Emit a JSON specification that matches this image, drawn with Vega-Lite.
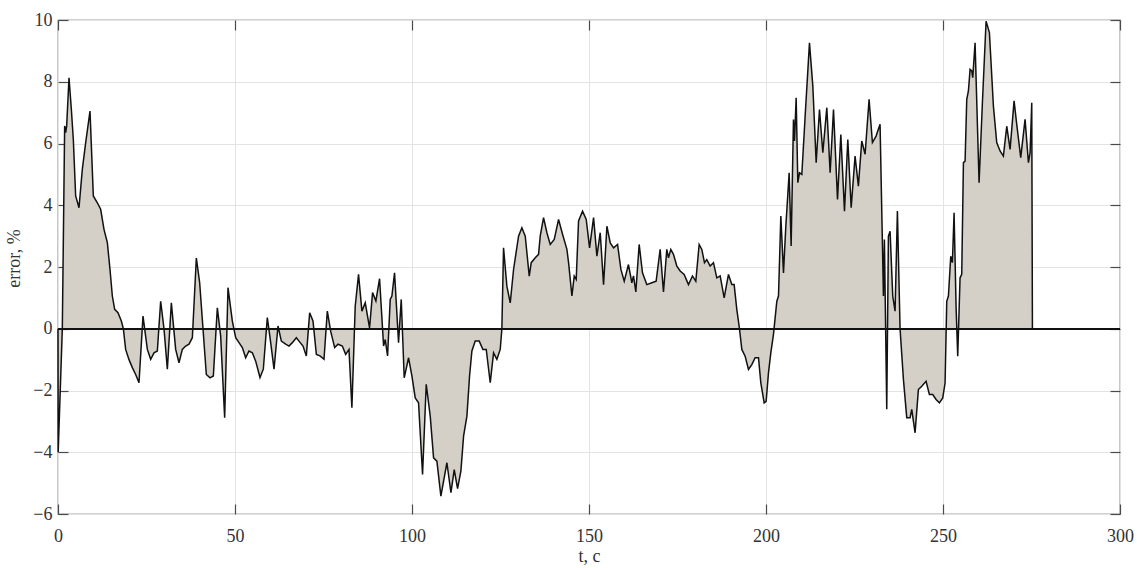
{
  "$schema": "https://vega.github.io/schema/vega-lite/v6.json",
  "width": 1062,
  "height": 494,
  "autosize": {"type": "none"},
  "padding": {"left": 58, "top": 20, "right": 17, "bottom": 54},
  "background": "white",
  "config": {
    "view": {"stroke": "#4a4a4a", "strokeWidth": 1.2},
    "axis": {
      "labelFont": "Liberation Serif",
      "titleFont": "Liberation Serif",
      "labelFontSize": 18,
      "titleFontSize": 18,
      "titleFontWeight": "normal",
      "labelColor": "#333333",
      "titleColor": "#333333",
      "gridColor": "#e3e3e3",
      "gridWidth": 1,
      "domain": false,
      "tickColor": "#4a4a4a",
      "tickWidth": 1.2
    }
  },
  "data": {"values": [
    {"t": 0, "v": 0}, {"t": 0.05, "v": -4.0}, {"t": 1.22, "v": 0.0}, {"t": 1.88, "v": 6.57}, {"t": 2.17, "v": 6.35}, {"t": 2.45, "v": 6.57},
    {"t": 3.11, "v": 8.13}, {"t": 3.77, "v": 7.11}, {"t": 4.33, "v": 6.13}, {"t": 4.99, "v": 4.3}, {"t": 5.93, "v": 3.92},
    {"t": 6.87, "v": 5.16}, {"t": 7.82, "v": 6.03}, {"t": 9.04, "v": 7.05}, {"t": 9.98, "v": 4.3}, {"t": 11.11, "v": 4.08},
    {"t": 12.05, "v": 3.87}, {"t": 12.99, "v": 3.22}, {"t": 13.94, "v": 2.79}, {"t": 14.69, "v": 1.92}, {"t": 15.35, "v": 1.06},
    {"t": 16.01, "v": 0.63}, {"t": 16.95, "v": 0.52}, {"t": 17.89, "v": 0.25}, {"t": 18.46, "v": 0.0}, {"t": 19.11, "v": -0.67},
    {"t": 20.06, "v": -1.0}, {"t": 21.0, "v": -1.26}, {"t": 21.94, "v": -1.48}, {"t": 22.88, "v": -1.75}, {"t": 24.01, "v": 0.41},
    {"t": 25.24, "v": -0.67}, {"t": 26.18, "v": -0.99}, {"t": 27.12, "v": -0.78}, {"t": 28.06, "v": -0.72}, {"t": 29.0, "v": 0.89},
    {"t": 29.94, "v": 0.0}, {"t": 30.89, "v": -1.31}, {"t": 32.02, "v": 0.84}, {"t": 33.24, "v": -0.67}, {"t": 34.18, "v": -1.1},
    {"t": 35.12, "v": -0.67}, {"t": 36.06, "v": -0.56}, {"t": 37.01, "v": -0.5}, {"t": 37.95, "v": -0.29}, {"t": 39.08, "v": 2.29},
    {"t": 40.02, "v": 1.49}, {"t": 40.96, "v": 0.0}, {"t": 41.9, "v": -1.48}, {"t": 42.94, "v": -1.59}, {"t": 43.88, "v": -1.53},
    {"t": 45.01, "v": 0.68}, {"t": 45.95, "v": -0.24}, {"t": 47.08, "v": -2.88}, {"t": 48.02, "v": 1.33}, {"t": 49.25, "v": 0.25},
    {"t": 50.19, "v": -0.29}, {"t": 51.13, "v": -0.45}, {"t": 52.07, "v": -0.61}, {"t": 53.01, "v": -0.94}, {"t": 53.95, "v": -0.72},
    {"t": 54.9, "v": -0.78}, {"t": 55.84, "v": -1.05}, {"t": 57.06, "v": -1.58}, {"t": 58.0, "v": -1.31}, {"t": 59.13, "v": 0.36},
    {"t": 60.08, "v": -0.45}, {"t": 61.02, "v": -1.31}, {"t": 62.15, "v": 0.09}, {"t": 63.09, "v": -0.4}, {"t": 64.31, "v": -0.5},
    {"t": 65.25, "v": -0.56}, {"t": 66.2, "v": -0.45}, {"t": 67.33, "v": -0.29}, {"t": 68.08, "v": -0.4}, {"t": 69.21, "v": -0.56},
    {"t": 70.15, "v": -0.88}, {"t": 71.09, "v": 0.52}, {"t": 72.03, "v": 0.25}, {"t": 72.98, "v": -0.83}, {"t": 74.01, "v": -0.88},
    {"t": 75.14, "v": -0.99}, {"t": 76.08, "v": 0.57}, {"t": 77.02, "v": -0.08}, {"t": 78.15, "v": -0.61}, {"t": 79.1, "v": -0.5},
    {"t": 80.32, "v": -0.56}, {"t": 81.26, "v": -0.83}, {"t": 82.2, "v": -0.67}, {"t": 83.02, "v": -2.56}, {"t": 83.96, "v": 0.73},
    {"t": 84.9, "v": 1.76}, {"t": 85.85, "v": 0.57}, {"t": 86.79, "v": 0.84}, {"t": 88.01, "v": 0.03}, {"t": 88.86, "v": 1.17},
    {"t": 89.8, "v": 0.9}, {"t": 90.84, "v": 1.62}, {"t": 91.97, "v": -0.56}, {"t": 92.44, "v": -0.35}, {"t": 93.1, "v": -0.88},
    {"t": 93.85, "v": 0.95}, {"t": 94.32, "v": 1.06}, {"t": 95.07, "v": 1.81}, {"t": 96.2, "v": -0.45}, {"t": 96.96, "v": 0.95},
    {"t": 97.8, "v": -1.59}, {"t": 99.03, "v": -0.94}, {"t": 99.97, "v": -1.53}, {"t": 100.91, "v": -2.24}, {"t": 101.85, "v": -2.4},
    {"t": 102.98, "v": -4.72}, {"t": 104.02, "v": -1.8}, {"t": 105.15, "v": -2.83}, {"t": 106.09, "v": -4.18}, {"t": 107.03, "v": -4.29},
    {"t": 108.16, "v": -5.42}, {"t": 109.86, "v": -4.34}, {"t": 111.0, "v": -5.31}, {"t": 111.93, "v": -4.56}, {"t": 112.87, "v": -5.18},
    {"t": 113.81, "v": -4.61}, {"t": 114.57, "v": -3.48}, {"t": 115.51, "v": -2.83}, {"t": 116.26, "v": -1.53}, {"t": 116.92, "v": -0.72},
    {"t": 117.86, "v": -0.4}, {"t": 118.99, "v": -0.4}, {"t": 120.03, "v": -0.67}, {"t": 120.97, "v": -0.67}, {"t": 122.1, "v": -1.75},
    {"t": 123.04, "v": -0.78}, {"t": 123.98, "v": -0.99}, {"t": 124.92, "v": -0.67}, {"t": 125.39, "v": 0.0}, {"t": 125.86, "v": 2.62},
    {"t": 126.8, "v": 1.38}, {"t": 127.75, "v": 0.84}, {"t": 128.69, "v": 1.92}, {"t": 130.1, "v": 3.0}, {"t": 131.04, "v": 3.27},
    {"t": 131.99, "v": 3.0}, {"t": 133.12, "v": 1.7}, {"t": 133.68, "v": 2.14}, {"t": 134.81, "v": 2.3}, {"t": 135.75, "v": 2.41},
    {"t": 136.22, "v": 3.0}, {"t": 137.16, "v": 3.6}, {"t": 138.11, "v": 3.11}, {"t": 139.05, "v": 2.73}, {"t": 140.18, "v": 2.89},
    {"t": 141.4, "v": 3.54}, {"t": 142.53, "v": 3.06}, {"t": 143.76, "v": 2.57}, {"t": 144.23, "v": 2.14}, {"t": 145.17, "v": 1.06},
    {"t": 145.83, "v": 1.71}, {"t": 146.39, "v": 1.6}, {"t": 147.05, "v": 3.49}, {"t": 148.18, "v": 3.81}, {"t": 149.22, "v": 3.54},
    {"t": 150.16, "v": 2.62}, {"t": 151.29, "v": 3.6}, {"t": 152.23, "v": 2.35}, {"t": 153.17, "v": 3.11}, {"t": 154.11, "v": 1.43},
    {"t": 155.06, "v": 3.32}, {"t": 156.0, "v": 2.78}, {"t": 156.94, "v": 2.62}, {"t": 158.07, "v": 2.73}, {"t": 159.01, "v": 1.92},
    {"t": 159.95, "v": 1.54}, {"t": 161.15, "v": 2.08}, {"t": 162.1, "v": 1.49}, {"t": 162.57, "v": 1.71}, {"t": 163.23, "v": 1.19},
    {"t": 164.17, "v": 2.73}, {"t": 165.11, "v": 1.81}, {"t": 166.33, "v": 1.43}, {"t": 167.74, "v": 1.49}, {"t": 168.97, "v": 1.54},
    {"t": 170.1, "v": 2.57}, {"t": 171.04, "v": 1.19}, {"t": 171.98, "v": 2.57}, {"t": 172.45, "v": 2.3}, {"t": 173.11, "v": 2.57},
    {"t": 173.86, "v": 2.41}, {"t": 174.81, "v": 2.03}, {"t": 175.75, "v": 1.87}, {"t": 176.88, "v": 1.76}, {"t": 178.1, "v": 1.43},
    {"t": 179.23, "v": 1.71}, {"t": 180.17, "v": 1.54}, {"t": 181.12, "v": 2.73}, {"t": 181.87, "v": 2.57}, {"t": 182.62, "v": 2.14},
    {"t": 183.28, "v": 2.24}, {"t": 184.22, "v": 2.03}, {"t": 185.16, "v": 2.14}, {"t": 186.11, "v": 1.65}, {"t": 187.05, "v": 1.71},
    {"t": 188.18, "v": 1.0}, {"t": 189.4, "v": 1.76}, {"t": 190.34, "v": 1.43}, {"t": 191.0, "v": 1.43}, {"t": 191.76, "v": 0.62},
    {"t": 192.51, "v": 0.0}, {"t": 193.17, "v": -0.67}, {"t": 194.11, "v": -0.89}, {"t": 195.05, "v": -1.32}, {"t": 195.99, "v": -1.16},
    {"t": 196.94, "v": -0.94}, {"t": 197.88, "v": -0.94}, {"t": 198.54, "v": -1.75}, {"t": 199.48, "v": -2.4}, {"t": 200.04, "v": -2.35},
    {"t": 200.7, "v": -1.43}, {"t": 201.36, "v": -0.78}, {"t": 202.11, "v": -0.18}, {"t": 203.06, "v": 0.89}, {"t": 203.53, "v": 1.06},
    {"t": 204.19, "v": 3.65}, {"t": 204.94, "v": 1.81}, {"t": 205.6, "v": 3.32}, {"t": 206.54, "v": 5.05}, {"t": 207.1, "v": 2.68},
    {"t": 207.76, "v": 6.78}, {"t": 208.05, "v": 6.08}, {"t": 208.52, "v": 7.48}, {"t": 208.99, "v": 4.73}, {"t": 209.46, "v": 5.05},
    {"t": 210.12, "v": 5.0}, {"t": 211.06, "v": 6.89}, {"t": 212.28, "v": 9.26}, {"t": 213.23, "v": 7.86}, {"t": 214.17, "v": 5.38},
    {"t": 215.11, "v": 7.1}, {"t": 216.05, "v": 5.7}, {"t": 217.18, "v": 7.16}, {"t": 218.12, "v": 5.05}, {"t": 219.07, "v": 7.1},
    {"t": 220.2, "v": 4.19}, {"t": 221.14, "v": 6.29}, {"t": 222.17, "v": 3.81}, {"t": 223.11, "v": 6.13}, {"t": 224.06, "v": 3.92},
    {"t": 225.16, "v": 5.59}, {"t": 226.1, "v": 4.62}, {"t": 227.05, "v": 6.08}, {"t": 227.99, "v": 5.65}, {"t": 229.12, "v": 7.43},
    {"t": 230.06, "v": 6.03}, {"t": 231.09, "v": 6.24}, {"t": 232.22, "v": 6.62}, {"t": 232.88, "v": 2.79}, {"t": 233.17, "v": 1.06},
    {"t": 233.45, "v": 2.89}, {"t": 234.11, "v": -2.61}, {"t": 234.58, "v": 3.0}, {"t": 235.05, "v": 3.16}, {"t": 235.8, "v": 1.06},
    {"t": 236.46, "v": 0.57}, {"t": 237.12, "v": 3.81}, {"t": 237.87, "v": 0.0}, {"t": 238.82, "v": -1.64}, {"t": 239.76, "v": -2.88},
    {"t": 240.7, "v": -2.88}, {"t": 241.17, "v": -2.61}, {"t": 242.11, "v": -3.37}, {"t": 243.05, "v": -1.97}, {"t": 244.0, "v": -1.86},
    {"t": 245.22, "v": -1.7}, {"t": 246.16, "v": -2.13}, {"t": 247.1, "v": -2.13}, {"t": 248.04, "v": -2.29}, {"t": 248.99, "v": -2.4},
    {"t": 249.93, "v": -2.24}, {"t": 250.59, "v": -1.75}, {"t": 251.06, "v": 0.89}, {"t": 251.53, "v": 1.06}, {"t": 252.19, "v": 2.35},
    {"t": 252.66, "v": 2.14}, {"t": 253.13, "v": 3.76}, {"t": 253.69, "v": 0.73}, {"t": 254.16, "v": -0.89}, {"t": 254.82, "v": 1.65},
    {"t": 255.29, "v": 1.76}, {"t": 255.77, "v": 5.38}, {"t": 256.24, "v": 5.43}, {"t": 256.71, "v": 7.43}, {"t": 257.18, "v": 7.7},
    {"t": 257.65, "v": 8.4}, {"t": 258.12, "v": 8.35}, {"t": 258.4, "v": 8.13}, {"t": 259.06, "v": 9.26}, {"t": 260.19, "v": 4.73},
    {"t": 261.13, "v": 7.32}, {"t": 262.17, "v": 9.96}, {"t": 263.11, "v": 9.59}, {"t": 264.24, "v": 7.21}, {"t": 265.18, "v": 6.03},
    {"t": 266.12, "v": 5.76}, {"t": 267.06, "v": 5.59}, {"t": 268.01, "v": 6.56}, {"t": 268.95, "v": 5.81}, {"t": 270.08, "v": 7.38},
    {"t": 270.83, "v": 6.62}, {"t": 271.96, "v": 5.54}, {"t": 273.18, "v": 6.78}, {"t": 274.13, "v": 5.38}, {"t": 274.6, "v": 5.7},
    {"t": 275.07, "v": 7.32}, {"t": 275.26, "v": 0.0}
  ]},
  "layer": [
    {
      "mark": {"type": "area", "color": "#d4d0c8", "opacity": 1, "interpolate": "linear"},
      "encoding": {
        "x": {"field": "t", "type": "quantitative",
              "scale": {"domain": [0, 300], "nice": false, "zero": false},
              "axis": {"orient": "bottom", "values": [0, 50, 100, 150, 200, 250, 300], "title": "t, c",
                       "grid": true, "tickSize": -10, "labelPadding": 23, "titlePadding": 2, "labelFlush": false}},
        "y": {"field": "v", "type": "quantitative",
              "scale": {"domain": [-6, 10], "nice": false, "zero": false},
              "axis": {"orient": "left", "values": [-6, -4, -2, 0, 2, 4, 6, 8, 10], "title": "error, %",
                       "grid": true, "tickSize": -10, "labelPadding": 16, "titlePadding": 9, "titleY": 238}},
        "y2": {"datum": 0}
      }
    },
    {
      "mark": {"type": "line", "color": "#111111", "strokeWidth": 1.5, "interpolate": "linear"},
      "encoding": {
        "x": {"field": "t", "type": "quantitative",
              "axis": {"orient": "top", "values": [0, 50, 100, 150, 200, 250, 300], "title": null,
                       "labels": false, "grid": false, "tickSize": -10}},
        "y": {"field": "v", "type": "quantitative",
              "axis": {"orient": "right", "values": [-6, -4, -2, 0, 2, 4, 6, 8, 10], "title": null,
                       "labels": false, "grid": false, "tickSize": -10}}
      }
    },
    {
      "mark": {"type": "rule", "color": "#111111", "strokeWidth": 1.3},
      "encoding": {"y": {"datum": 0, "axis": null}}
    }
  ],
  "resolve": {"axis": {"x": "independent", "y": "independent"}}
}
